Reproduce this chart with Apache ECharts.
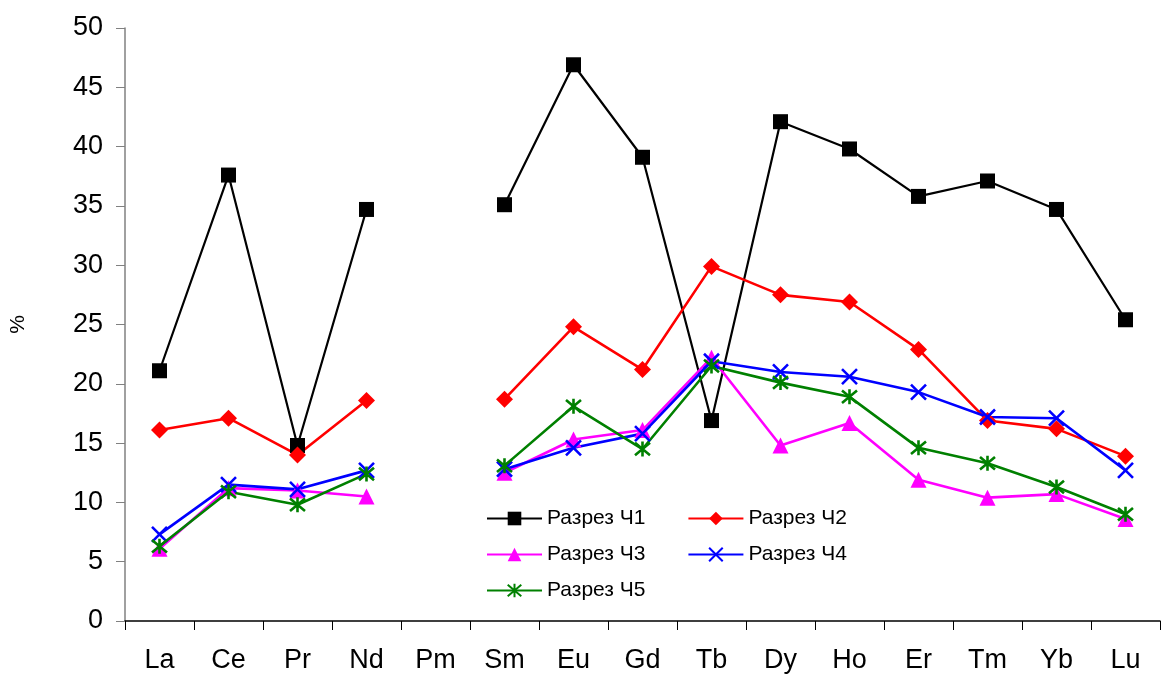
<!DOCTYPE html>
<html>
<head>
<meta charset="utf-8">
<script src="https://cdn.jsdelivr.net/npm/echarts@6/dist/echarts.min.js"></script>
<style>
  html, body { margin: 0; padding: 0; background: #fff; }
  #chart { width: 1167px; height: 679px; }
</style>
</head>
<body>
<div id="chart"></div>
<script>
// Rare earth elements along the x axis (Pm has no measurements)
const elements = ['La','Ce','Pr','Nd','Pm','Sm','Eu','Gd','Tb','Dy','Ho','Er','Tm','Yb','Lu'];
const yTicks = [0, 5, 10, 15, 20, 25, 30, 35, 40, 45, 50];

const razrez1 = [21.1, 37.6, 14.8, 34.7, null, 35.1, 46.9, 39.1, 16.9, 42.1, 39.8, 35.8, 37.1, 34.7, 25.4];
const razrez2 = [16.1, 17.1, 14.0, 18.6, null, 18.7, 24.8, 21.2, 29.9, 27.5, 26.9, 22.9, 16.9, 16.2, 13.9];
const razrez3 = [6.1, 11.2, 11.0, 10.5, null, 12.5, 15.3, 16.1, 22.2, 14.8, 16.7, 11.9, 10.4, 10.7, 8.6];
const razrez4 = [7.3, 11.5, 11.1, 12.7, null, 12.8, 14.6, 15.8, 21.9, 21.0, 20.6, 19.3, 17.2, 17.1, 12.7];
const razrez5 = [6.3, 10.9, 9.8, 12.4, null, 13.1, 18.1, 14.5, 21.5, 20.1, 18.9, 14.6, 13.3, 11.3, 9.0];

const seriesNames = ['Разрез Ч1', 'Разрез Ч2', 'Разрез Ч3', 'Разрез Ч4', 'Разрез Ч5'];

const crossPath = 'path://M0,0L10,10M10,0L0,10';
const starPath = 'path://M0,0L10,10M10,0L0,10M5,-1L5,11';
const fontFamily = 'Liberation Sans, Arial, sans-serif';

function lineSeries(name, data, color, symbol, size, stroke) {
  return {
    name: name,
    type: 'line',
    data: data,
    connectNulls: false,
    symbol: symbol,
    symbolSize: size,
    showAllSymbol: true,
    lineStyle: { color: color, width: name === 'Разрез Ч1' ? 2.2 : 2.6 },
    itemStyle: stroke
      ? { color: 'transparent', borderColor: color, borderWidth: 2.6 }
      : { color: color, borderWidth: 0 },
    emphasis: { disabled: true },
    animation: false
  };
}

function legendRow(names, top) {
  return {
    data: names,
    left: 481, top: top,
    orient: 'horizontal',
    itemWidth: 55, itemHeight: 17, itemGap: 42,
    textStyle: { fontFamily: fontFamily, fontSize: 21, color: '#000' },
    selectedMode: false
  };
}

const chart = echarts.init(document.getElementById('chart'), null, { renderer: 'canvas' });
chart.setOption({
  backgroundColor: '#fff',
  animation: false,
  grid: { left: 125, right: 7, top: 28, bottom: 58, containLabel: false },
  legend: [
    legendRow([seriesNames[0], seriesNames[1]], 503),
    legendRow([seriesNames[2], seriesNames[3]], 539),
    legendRow([seriesNames[4]], 575)
  ],
  xAxis: {
    type: 'category',
    data: elements,
    boundaryGap: true,
    axisLine: { lineStyle: { color: '#000', width: 1.5 } },
    axisTick: { show: true, length: 9, inside: false, alignWithLabel: false, lineStyle: { color: '#000' } },
    axisLabel: { fontFamily: fontFamily, fontSize: 27, color: '#000', margin: 26 },
    splitLine: { show: false }
  },
  yAxis: {
    type: 'value',
    min: yTicks[0], max: yTicks[yTicks.length - 1], interval: 5,
    name: '%',
    nameLocation: 'middle',
    nameGap: 96,
    nameRotate: 90,
    nameTextStyle: { fontFamily: fontFamily, fontSize: 21, color: '#000' },
    axisLine: { show: true, lineStyle: { color: '#808080', width: 1.5 } },
    axisTick: { show: true, length: 9, lineStyle: { color: '#808080' } },
    axisLabel: { fontFamily: fontFamily, fontSize: 27, color: '#000', margin: 22 },
    splitLine: { show: false }
  },
  series: [
    lineSeries(seriesNames[0], razrez1, '#000000', 'rect', 15, false),
    lineSeries(seriesNames[1], razrez2, '#ff0000', 'diamond', 17, false),
    lineSeries(seriesNames[2], razrez3, '#ff00ff', 'triangle', 16, false),
    lineSeries(seriesNames[3], razrez4, '#0000ff', crossPath, 15, true),
    lineSeries(seriesNames[4], razrez5, '#008000', starPath, 15, true)
  ]
});
</script>
</body>
</html>
